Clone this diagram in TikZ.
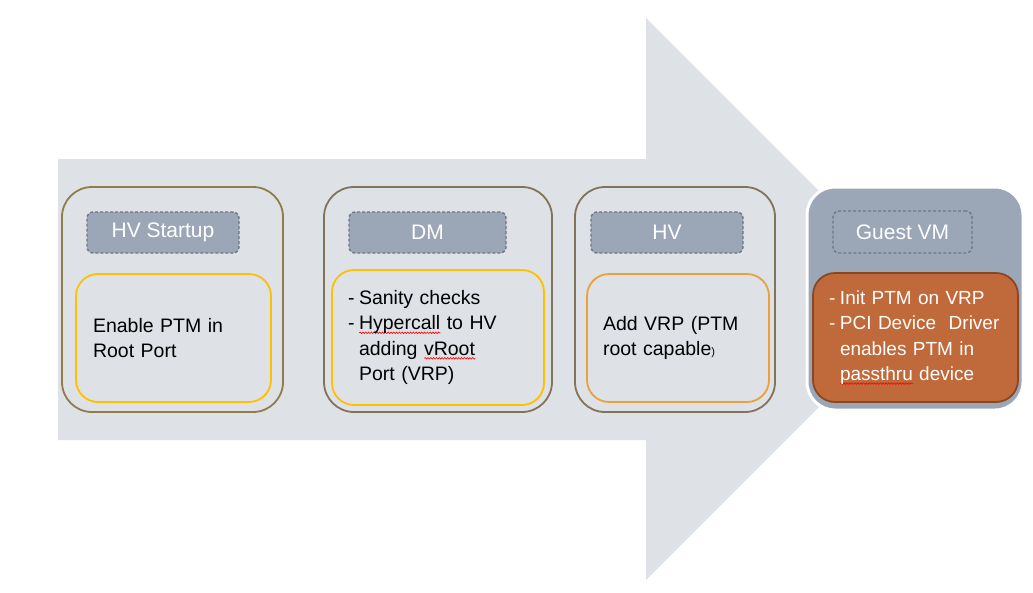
\documentclass[tikz,border=0pt]{standalone}
\usepackage{fontspec}
\setmainfont{Liberation Sans}
\usetikzlibrary{positioning, decorations.pathmorphing}
\definecolor{flowBg}{HTML}{DEE1E6}
\definecolor{tagFill}{HTML}{9BA7B6}
\definecolor{tagLine}{HTML}{6E7886}
\definecolor{stageOlive}{HTML}{8F7E47}
\definecolor{stageBrown}{HTML}{82745A}
\definecolor{stepYellow}{HTML}{FFC000}
\definecolor{stepOrange}{HTML}{E9A23B}
\definecolor{guestFill}{HTML}{C0693A}
\definecolor{guestLine}{HTML}{8A4722}
\hyphenpenalty=10000

% dash bullet with hanging indent
\newcommand\dashitem[1]{\hangindent=11pt\hangafter=1\noindent\makebox[11pt][l]{-}#1\par}
% red spell-check squiggle under a word
\newlength\errwd
\newcommand\spellerr[1]{\settowidth\errwd{#1}\makebox[0pt][l]{\pgfinterruptpicture
  \tikz[baseline=0pt, x=1pt, y=1pt]\draw[red, solid, sharp corners, line width=0.6pt, decorate,
    decoration={snake, amplitude=0.8pt, segment length=2.8pt}] (0,-3) -- (\errwd,-3);\endpgfinterruptpicture}#1}

\begin{document}
\begin{tikzpicture}[x=1pt, y=-1pt,
  stagebox/.style={draw, rounded corners=30pt, line width=1.8pt},
  tagbox/.style={draw=tagLine, fill=tagFill, dashed, dash pattern=on 3pt off 2pt, line width=1.4pt,
    rounded corners=6pt, text=white, font=\fontsize{21}{24}\selectfont, minimum height=41pt},
  stepbox/.style={rounded corners=22pt, line width=1.8pt, align=left, inner xsep=16pt,
    font=\fontsize{19.5}{25.5}\selectfont, minimum height=128pt}
]
\useasboundingbox (0,0) rectangle (1033,592);

% big flow arrow
\fill[flowBg] (58,159) -- (646,159) -- (646,18) -- (927,299) -- (646,580) -- (646,440) -- (58,440) -- cycle;

% HV Startup
\node[stagebox, draw=stageOlive, minimum width=221pt, minimum height=225pt] (s1) at (172.5,299.5) {};
\node[tagbox, minimum width=152pt] (t1) at (163,232.5) {HV Startup};
\node[stepbox, draw=stepYellow, minimum width=195pt, text width=161pt] (p1) at (173.5,338)
  {Enable PTM in\\Root Port};

% DM
\node[stagebox, draw=stageBrown, minimum width=228pt, minimum height=225pt] (s2) at (438,299.5) {};
\node[tagbox, minimum width=157pt] (t2) at (427.5,232.5) {DM};
\node[stepbox, draw=stepYellow, minimum width=212pt, minimum height=135pt, text width=180pt] (p2) at (438,337.5)
  {\dashitem{Sanity checks}\dashitem{\spellerr{Hypercall} to HV\newline adding \spellerr{vRoot}\newline Port (VRP)}};

% HV
\node[stagebox, draw=stageBrown, minimum width=200pt, minimum height=225pt] (s3) at (675,299.5) {};
\node[tagbox, minimum width=152pt] (t3) at (667,232.5) {HV};
\node[stepbox, draw=stepOrange, minimum width=182pt, text width=150pt] (p3) at (678,338)
  {Add VRP (PTM\\root capable{\fontsize{11}{12}\selectfont)}};

% Guest VM
\node[stagebox, draw=white, fill=tagFill, line width=3pt, rounded corners=28pt,
  minimum width=216pt, minimum height=223pt] (s4) at (915,298.5) {};
\node[tagbox, fill=none, minimum width=139pt, minimum height=42pt] (t4) at (902.5,232) {Guest VM};
\node[stepbox, draw=guestLine, fill=guestFill, text=white, minimum width=205pt, minimum height=129pt,
  text width=173pt, font=\fontsize{19}{25.5}\selectfont] (p4) at (915.5,337.5)
  {\dashitem{Init PTM on VRP}\dashitem{PCI~Device~~Driver\newline enables PTM in\newline \spellerr{passthru} device}};
\end{tikzpicture}
\end{document}
